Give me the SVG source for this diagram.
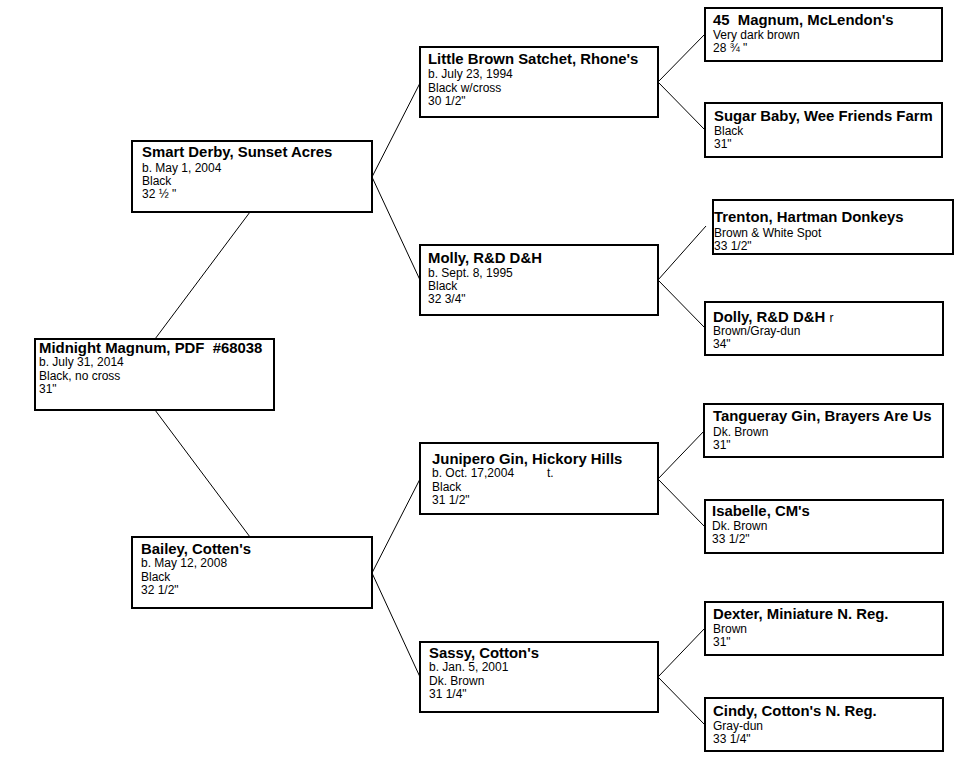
<svg xmlns="http://www.w3.org/2000/svg" width="980" height="757" viewBox="0 0 980 757">
<style>
.box{fill:#fff;stroke:#000;stroke-width:2}
.t{font-family:"Liberation Sans",Arial,sans-serif;font-weight:bold;font-size:14.9px;fill:#000;white-space:pre}
.d{font-family:"Liberation Sans",Arial,sans-serif;font-size:12px;fill:#000;white-space:pre}
.s{font-weight:normal;font-size:12px}
.c line{stroke:#000;stroke-width:1}
</style>
<rect width="980" height="757" fill="#fff"/>
<g class="c" id="connectors">
<line x1="155" y1="339" x2="250" y2="212"/>
<line x1="155" y1="410" x2="250" y2="537"/>
<line x1="372" y1="177" x2="420" y2="83"/>
<line x1="372" y1="177" x2="420" y2="280"/>
<line x1="372" y1="573" x2="420" y2="479"/>
<line x1="372" y1="573" x2="420" y2="677"/>
<line x1="658" y1="82" x2="705" y2="34"/>
<line x1="658" y1="82" x2="705" y2="130"/>
<line x1="658" y1="280" x2="706" y2="226"/>
<line x1="658" y1="280" x2="705" y2="328"/>
<line x1="658" y1="479" x2="705" y2="430"/>
<line x1="658" y1="479" x2="705" y2="527"/>
<line x1="658" y1="677" x2="705" y2="628"/>
<line x1="658" y1="677" x2="705" y2="725"/>
</g>
<g id="midnight">
<rect class="box" x="35" y="339" width="239" height="71"/>
<text class="t" x="39" y="353" xml:space="preserve">Midnight Magnum, PDF  #68038</text>
<text class="d" x="39" y="366">b. July 31, 2014</text>
<text class="d" x="39" y="380">Black, no cross</text>
<text class="d" x="39" y="393">31"</text>
</g>
<g id="smartderby">
<rect class="box" x="132" y="141" width="240" height="71"/>
<text class="t" x="142" y="157">Smart Derby, Sunset Acres</text>
<text class="d" x="142" y="172">b. May 1, 2004</text>
<text class="d" x="142" y="185">Black</text>
<text class="d" x="142" y="198">32 ½ "</text>
</g>
<g id="bailey">
<rect class="box" x="132" y="537" width="240" height="71"/>
<text class="t" x="141" y="554">Bailey, Cotten's</text>
<text class="d" x="141" y="567">b. May 12, 2008</text>
<text class="d" x="141" y="581">Black</text>
<text class="d" x="141" y="594">32 1/2"</text>
</g>
<g id="littlebrown">
<rect class="box" x="420" y="47" width="238" height="70"/>
<text class="t" x="428" y="64">Little Brown Satchet, Rhone's</text>
<text class="d" x="428" y="78">b. July 23, 1994</text>
<text class="d" x="428" y="92">Black w/cross</text>
<text class="d" x="428" y="105">30 1/2"</text>
</g>
<g id="molly">
<rect class="box" x="420" y="245" width="238" height="70"/>
<text class="t" x="428" y="263">Molly, R&amp;D D&amp;H</text>
<text class="d" x="428" y="277">b. Sept. 8, 1995</text>
<text class="d" x="428" y="290">Black</text>
<text class="d" x="428" y="303">32 3/4"</text>
</g>
<g id="junipero">
<rect class="box" x="420" y="443" width="238" height="71"/>
<text class="t" x="432" y="464">Junipero Gin, Hickory Hills</text>
<text class="d" x="432" y="477">b. Oct. 17,2004</text>
<text class="d" x="547" y="477">t.</text>
<text class="d" x="432" y="491">Black</text>
<text class="d" x="432" y="504">31 1/2"</text>
</g>
<g id="sassy">
<rect class="box" x="420" y="642" width="238" height="70"/>
<text class="t" x="429" y="658">Sassy, Cotton's</text>
<text class="d" x="429" y="671">b. Jan. 5, 2001</text>
<text class="d" x="429" y="685">Dk. Brown</text>
<text class="d" x="429" y="698">31 1/4"</text>
</g>
<g id="magnum45">
<rect class="box" x="705" y="8" width="237" height="53"/>
<text class="t" x="713" y="25" xml:space="preserve">45  Magnum, McLendon's</text>
<text class="d" x="713" y="39">Very dark brown</text>
<text class="d" x="713" y="52">28 ¾ "</text>
</g>
<g id="sugarbaby">
<rect class="box" x="705" y="103" width="237" height="54"/>
<text class="t" x="714" y="121">Sugar Baby, Wee Friends Farm</text>
<text class="d" x="714" y="135">Black</text>
<text class="d" x="714" y="148">31"</text>
</g>
<g id="trenton">
<rect class="box" x="713" y="200" width="240" height="54"/>
<text class="t" x="714" y="222">Trenton, Hartman Donkeys</text>
<text class="d" x="714" y="237">Brown &amp; White Spot</text>
<text class="d" x="714" y="250">33 1/2"</text>
</g>
<g id="dolly">
<rect class="box" x="705" y="302" width="238" height="53"/>
<text class="t" x="713" y="322" xml:space="preserve">Dolly, R&amp;D D&amp;H <tspan class="s">r</tspan></text>
<text class="d" x="713" y="335">Brown/Gray-dun</text>
<text class="d" x="713" y="348">34"</text>
</g>
<g id="tangueray">
<rect class="box" x="704" y="404" width="239" height="53"/>
<text class="t" x="713" y="421">Tangueray Gin, Brayers Are Us</text>
<text class="d" x="713" y="436">Dk. Brown</text>
<text class="d" x="713" y="449">31"</text>
</g>
<g id="isabelle">
<rect class="box" x="705" y="500" width="238" height="53"/>
<text class="t" x="712" y="516">Isabelle, CM's</text>
<text class="d" x="712" y="530">Dk. Brown</text>
<text class="d" x="712" y="543">33 1/2"</text>
</g>
<g id="dexter">
<rect class="box" x="705" y="602" width="238" height="53"/>
<text class="t" x="713" y="619">Dexter, Miniature N. Reg.</text>
<text class="d" x="713" y="633">Brown</text>
<text class="d" x="713" y="646">31"</text>
</g>
<g id="cindy">
<rect class="box" x="705" y="698" width="238" height="53"/>
<text class="t" x="713" y="716">Cindy, Cotton's N. Reg.</text>
<text class="d" x="713" y="730">Gray-dun</text>
<text class="d" x="713" y="743">33 1/4"</text>
</g>
</svg>
